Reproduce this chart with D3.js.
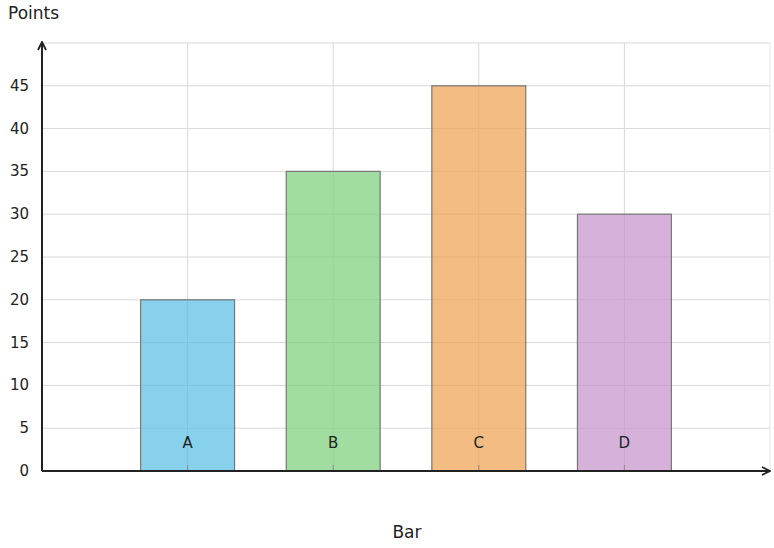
<!DOCTYPE html>
<html><head><meta charset="utf-8">
<script src="https://cdn.jsdelivr.net/npm/d3@7"></script>
<style>body{margin:0;background:#fff}text{font-family:"DejaVu Sans",sans-serif;fill:#222}</style>
</head><body><svg id="c" width="774" height="548"></svg>
<script>
const categories=["A","B","C","D"];
const values=[20,35,45,30];
const colors=["#56bde4","#79cf79","#eda04e","#c591cb"];
const yTicks=[0,5,10,15,20,25,30,35,40,45];
const svg=d3.select("#c");
const x=d3.scaleLinear().domain([0,5]).range([42,770]);
const y=d3.scaleLinear().domain([0,50]).range([471,43]);
const g=svg.append("g");
// grid
g.selectAll(".hg").data(yTicks.concat([50])).enter().append("line")
 .attr("x1",42).attr("x2",770).attr("y1",d=>y(d)).attr("y2",d=>y(d)).attr("stroke","#d9d9d9");
g.selectAll(".vg").data(categories).enter().append("line")
 .attr("x1",(d,i)=>x(i+1)).attr("x2",(d,i)=>x(i+1)).attr("y1",y(50)).attr("y2",y(0)).attr("stroke","#d9d9d9");
g.append("line").attr("x1",x(5)).attr("x2",x(5)).attr("y1",y(50)).attr("y2",y(0)).attr("stroke","#e6e6e6");
const bw=x(0.645)-x(0);
g.selectAll(".bar").data(values).enter().append("rect")
 .attr("x",(d,i)=>x(i+1)-bw/2).attr("width",bw)
 .attr("y",d=>y(d)).attr("height",d=>y(0)-y(d))
 .attr("fill",(d,i)=>colors[i]).attr("fill-opacity",0.7)
 .attr("stroke","#777").attr("stroke-width",1.2);
// category labels
g.selectAll(".cl").data(categories).enter().append("text")
 .attr("x",(d,i)=>x(i+1)).attr("y",448).attr("text-anchor","middle").attr("font-size",15).text(d=>d);
g.selectAll(".ct").data(categories).enter().append("line")
 .attr("x1",(d,i)=>x(i+1)).attr("x2",(d,i)=>x(i+1)).attr("y1",465).attr("y2",471).attr("stroke","#888");
// y ticks
g.selectAll(".yl").data(yTicks).enter().append("text")
 .attr("x",29).attr("y",d=>y(d)+5).attr("text-anchor","end").attr("font-size",15).text(d=>d);
// axes
svg.append("defs").append("marker").attr("id","ar").attr("viewBox","0 0 10 10").attr("refX",9).attr("refY",5)
 .attr("markerWidth",10).attr("markerHeight",10).attr("markerUnits","userSpaceOnUse").attr("orient","auto")
 .append("path").attr("d","M1,1L9,5L1,9").attr("fill","none").attr("stroke","#222").attr("stroke-width",1.8);
g.append("line").attr("x1",42).attr("x2",770).attr("y1",y(0)).attr("y2",y(0)).attr("stroke","#222").attr("stroke-width",2).attr("marker-end","url(#ar)");
g.append("line").attr("x1",42).attr("x2",42).attr("y1",y(0)).attr("y2",42).attr("stroke","#222").attr("stroke-width",2).attr("marker-end","url(#ar)");
svg.append("text").attr("x",8).attr("y",19).attr("font-size",17).text("Points");
svg.append("text").attr("x",407).attr("y",538).attr("text-anchor","middle").attr("font-size",17).text("Bar");
</script></body></html>
